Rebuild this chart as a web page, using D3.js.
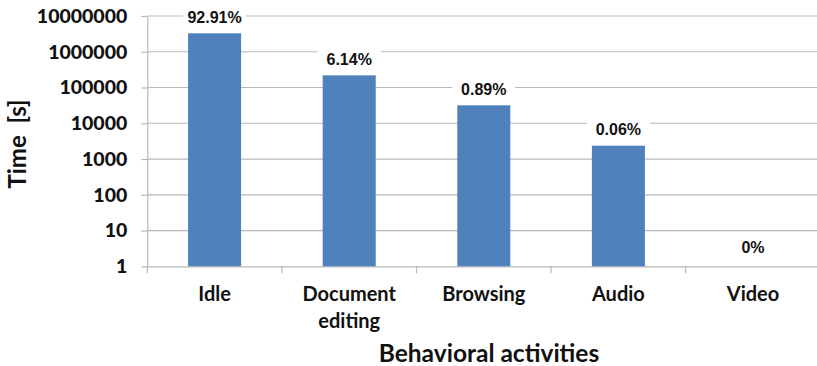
<!DOCTYPE html>
<html>
<head>
<meta charset="utf-8">
<script src="https://cdn.jsdelivr.net/npm/d3@7"></script>
<style>
  html, body { margin: 0; padding: 0; background: #ffffff; }
  svg { display: block; }
</style>
</head>
<body>
<svg id="chart" width="817" height="366"></svg>
<script>
// Time spent per behavioral activity (seconds) and its share of the total
const categories = ["Idle", "Document editing", "Browsing", "Audio", "Video"];
const categoryLines = [["Idle"], ["Document", "editing"], ["Browsing"], ["Audio"], ["Video"]];
const timeSeconds = [3280000, 219000, 31800, 2360, 0];
const shareLabels = ["92.91%", "6.14%", "0.89%", "0.06%", "0%"];
const yTicks = [1, 10, 100, 1000, 10000, 100000, 1000000, 10000000];

const svg = d3.select("#chart");
const plot = { left: 147.3, right: 820.3, top: 16, bottom: 266.3 };

const x = d3.scaleBand()
  .domain(categories)
  .range([plot.left, plot.right])
  .paddingInner(0.606)
  .paddingOuter(0.303);

const y = d3.scaleLog()
  .domain([1, 1e7])
  .range([plot.bottom, plot.top]);

const gridColor = "#b9b9b9";

// horizontal gridlines
svg.append("g")
  .selectAll("line")
  .data(yTicks.slice(1))
  .join("line")
  .attr("x1", plot.left)
  .attr("x2", 817)
  .attr("y1", d => y(d))
  .attr("y2", d => y(d))
  .attr("stroke", gridColor)
  .attr("stroke-width", 1.2);

// y axis
const yAxis = svg.append("g")
  .attr("transform", `translate(${plot.left},0)`)
  .call(d3.axisLeft(y).tickValues(yTicks).tickFormat(d3.format("d")).tickSizeInner(6).tickSizeOuter(0).tickPadding(14));
yAxis.select(".domain").attr("stroke", gridColor).attr("stroke-width", 1.2);
yAxis.selectAll(".tick line").attr("stroke", gridColor).attr("stroke-width", 1.2);
yAxis.selectAll(".tick text")
  .attr("fill", "#111")
  .style("font-family", "Lato, 'Open Sans', sans-serif")
  .style("font-weight", "900")
  .style("font-size", "19.5px");

// x axis
const xAxis = svg.append("g")
  .attr("transform", `translate(0,${plot.bottom})`)
  .call(d3.axisBottom(x).tickSize(0).tickFormat(""));
xAxis.select(".domain").attr("stroke", gridColor).attr("stroke-width", 1.2);

// category separators on the x axis
const step = x.step();
svg.append("g")
  .selectAll("line")
  .data(d3.range(categories.length + 1))
  .join("line")
  .attr("x1", i => plot.left + i * step)
  .attr("x2", i => plot.left + i * step)
  .attr("y1", plot.bottom)
  .attr("y2", plot.bottom + 7)
  .attr("stroke", gridColor)
  .attr("stroke-width", 1.2);

// bars (values below 1 have no visible bar on a log axis)
svg.append("g")
  .selectAll("rect")
  .data(categories.map((c, i) => ({ c, v: timeSeconds[i] })).filter(d => d.v >= 1))
  .join("rect")
  .attr("x", d => x(d.c))
  .attr("width", x.bandwidth())
  .attr("y", d => y(d.v))
  .attr("height", d => y(1) - y(d.v))
  .attr("fill", "#4f81bd");

// percentage labels on white boxes
const labels = svg.append("g")
  .selectAll("g")
  .data(categories.map((c, i) => ({ c, v: timeSeconds[i], s: shareLabels[i] })))
  .join("g")
  .attr("transform", d => {
    const top = d.v >= 1 ? y(d.v) : y(1) - 3;
    return `translate(${x(d.c) + x.bandwidth() / 2},${top - 16})`;
  });
labels.append("rect")
  .attr("x", -31.5)
  .attr("y", -10)
  .attr("width", 63)
  .attr("height", 20)
  .attr("fill", "#ffffff");
labels.append("text")
  .attr("text-anchor", "middle")
  .attr("dy", "0.36em")
  .attr("fill", "#111")
  .style("font-family", "'Liberation Sans', Arial, sans-serif")
  .style("font-weight", "bold")
  .style("font-size", "16px")
  .text(d => d.s);

// category labels
const catText = svg.append("g")
  .selectAll("text")
  .data(categories.map((c, i) => ({ c, lines: categoryLines[i] })))
  .join("text")
  .attr("text-anchor", "middle")
  .attr("fill", "#111")
  .style("font-family", "Lato, 'Open Sans', sans-serif")
  .style("font-weight", "bold")
  .style("font-size", "20px")
  .attr("transform", d => `translate(${x(d.c) + x.bandwidth() / 2},301)`);
catText.selectAll("tspan")
  .data(d => d.lines)
  .join("tspan")
  .attr("x", 0)
  .attr("dy", (d, i) => i === 0 ? 0 : 27)
  .text(d => d);

// axis titles
svg.append("text")
  .attr("x", 489)
  .attr("y", 362)
  .attr("text-anchor", "middle")
  .attr("fill", "#111")
  .style("font-family", "Lato, 'Open Sans', sans-serif")
  .style("font-weight", "bold")
  .style("font-size", "24.5px")
  .text("Behavioral activities");

svg.append("text")
  .attr("transform", "translate(26,144) rotate(-90)")
  .attr("text-anchor", "middle")
  .attr("fill", "#111")
  .style("font-family", "Lato, 'Open Sans', sans-serif")
  .style("font-weight", "bold")
  .style("font-size", "24px")
  .style("white-space", "pre")
  .text("Time  [s]");
</script>
</body>
</html>
